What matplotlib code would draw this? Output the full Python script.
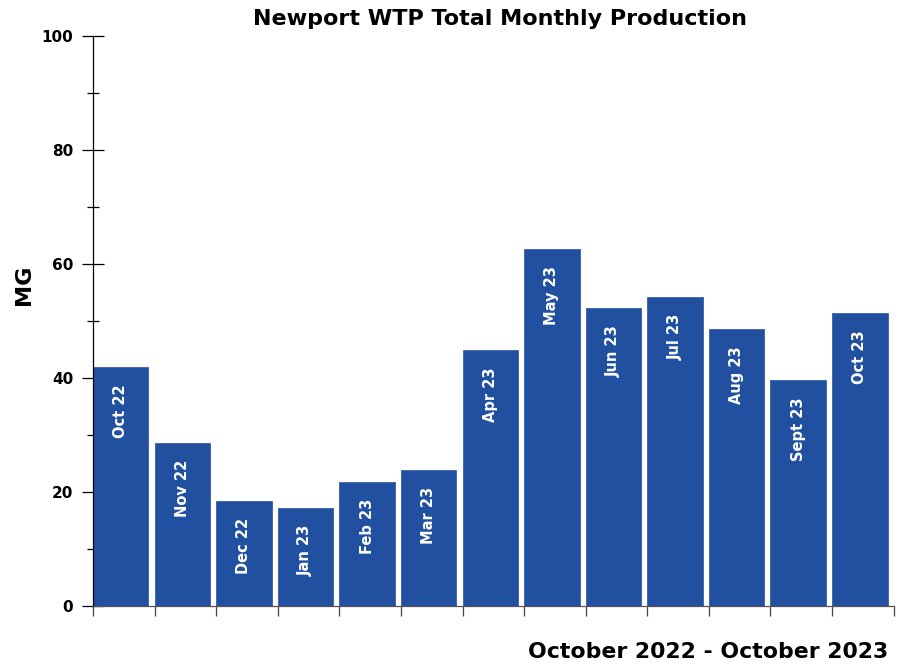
import numpy as np
import matplotlib.pyplot as plt
from matplotlib.ticker import MultipleLocator

months = ['Oct 22', 'Nov 22', 'Dec 22', 'Jan 23', 'Feb 23', 'Mar 23', 'Apr 23',
          'May 23', 'Jun 23', 'Jul 23', 'Aug 23', 'Sept 23', 'Oct 23']
production = [41.9, 28.6, 18.4, 17.2, 21.8, 23.9, 44.9,
              62.6, 52.3, 54.2, 48.6, 39.6, 51.4]

bar_color = '#2150a0'

fig = plt.figure(figsize=(9.11, 6.67), dpi=100)
ax = fig.add_axes([0.102, 0.0915, 0.879, 0.8545])

ind = np.arange(len(months))
bars = ax.bar(ind, production, 0.9, align='edge', color=bar_color,
              edgecolor='#3a5fa8', linewidth=0.6, zorder=2)

# month names written inside the bars, near the top
for b, lab in zip(bars, months):
    ax.annotate(lab, (b.get_x() + b.get_width() / 2, b.get_height()),
                xytext=(0, -17), textcoords='offset pixels',
                rotation=90, ha='center', va='top', color='white',
                fontsize=10.5, fontweight='bold')

ax.set_xlim(0, len(months))
ax.set_ylim(0, 100)
ax.yaxis.set_major_locator(MultipleLocator(20))
ax.yaxis.set_minor_locator(MultipleLocator(10))
ax.set_xticks(np.arange(len(months) + 1))
ax.set_xticklabels([])

ax.spines['top'].set_visible(False)
ax.spines['right'].set_visible(False)
ax.spines['left'].set_color('black')
ax.spines['bottom'].set_color('#555555')
ax.spines['left'].set_linewidth(0.9)
ax.spines['bottom'].set_linewidth(0.9)

ax.tick_params(axis='y', which='major', direction='inout', length=16.5,
               width=0.9, labelsize=11, pad=6)
ax.tick_params(axis='y', which='minor', direction='inout', length=8, width=0.9)
ax.tick_params(axis='x', which='major', direction='out', length=7,
               width=0.9, color='#444444')
for t in ax.get_yticklabels():
    t.set_fontweight('bold')

fig.text(0.549, 0.972, 'Newport WTP Total Monthly Production', ha='center',
         va='center', fontsize=16, fontweight='bold')
fig.text(0.026, 0.573, 'MG', rotation=90, ha='center', va='center',
         fontsize=16, fontweight='bold')
fig.text(0.975, 0.022, 'October 2022 - October 2023', ha='right',
         va='center', fontsize=15.8, fontweight='bold')

plt.savefig('out.png', dpi=100)
